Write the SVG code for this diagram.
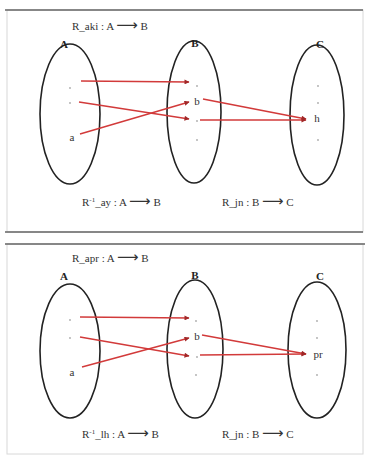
<svg xmlns="http://www.w3.org/2000/svg" width="368" height="462" viewBox="0 0 368 462">
<defs>
<marker id="ah" viewBox="0 0 10 10" refX="9" refY="5" markerWidth="6" markerHeight="5" orient="auto" markerUnits="userSpaceOnUse">
<path d="M0,0 L10,5 L0,10 z" fill="#a02828"/>
</marker>
<style>
.panel{fill:#fff;stroke:#d8d8d8;stroke-width:1}
.rule{stroke:#666;stroke-width:1.6}
.set{fill:none;stroke:#222;stroke-width:1.6}
.arr{stroke:#d23a3a;stroke-width:1.5;fill:none;marker-end:url(#ah)}
.lbl{font-family:"Liberation Serif",serif;font-size:11px;fill:#333}
.ar{font-family:"DejaVu Sans",sans-serif;font-size:15px}
.setlbl{font-family:"Liberation Serif",serif;font-size:11px;font-weight:bold;fill:#222;text-anchor:middle}
.el{font-family:"Liberation Serif",serif;font-size:11px;fill:#333;text-anchor:middle}
.dot{fill:#aaa}
</style>
</defs>
<rect width="368" height="462" fill="#fff"/>
<g id="panel1">
<rect class="panel" x="7" y="10" width="356" height="222"/>
<line class="rule" x1="5" y1="10" x2="363" y2="10"/>
<line class="rule" x1="5" y1="232" x2="363" y2="232"/>
</g>
<g id="panel2">
<rect class="panel" x="7" y="244" width="356" height="210"/>
<line class="rule" x1="5" y1="244" x2="365" y2="244"/>
</g>
<g id="title1"><text class="lbl" x="72" y="30">R_aki : A <tspan class="ar">⟶</tspan> B</text></g>
<g id="setA1"><ellipse class="set" cx="70" cy="114" rx="30" ry="70"/><text class="setlbl" x="64" y="48">A</text>
<circle class="dot" cx="70" cy="88" r="0.9"/><circle class="dot" cx="70" cy="103" r="0.9"/><text class="el" x="72" y="141">a</text></g>
<g id="setB1"><ellipse class="set" cx="194" cy="112" rx="27" ry="71"/><text class="setlbl" x="195" y="47">B</text>
<circle class="dot" cx="197" cy="86" r="0.9"/><text class="el" x="197" y="105">b</text><circle class="dot" cx="197" cy="121" r="0.9"/><circle class="dot" cx="197" cy="140" r="0.9"/></g>
<g id="setC1"><ellipse class="set" cx="317" cy="115" rx="27" ry="70"/><text class="setlbl" x="320" y="48">C</text>
<circle class="dot" cx="318" cy="86" r="0.9"/><circle class="dot" cx="318" cy="103" r="0.9"/><text class="el" x="317" y="122">h</text><circle class="dot" cx="318" cy="140" r="0.9"/></g>
<g id="conn1">
<line class="arr" x1="81" y1="81" x2="189" y2="82"/>
<line class="arr" x1="79" y1="102" x2="189" y2="119"/>
<line class="arr" x1="80" y1="134" x2="189" y2="102"/>
<line class="arr" x1="203" y1="99" x2="306" y2="119"/>
<line class="arr" x1="200" y1="120" x2="306" y2="120"/>
</g>
<g id="foot1"><text class="lbl" x="82" y="206">R<tspan dy="-4" font-size="7">-1</tspan><tspan dy="4">_ay : A </tspan><tspan class="ar">⟶</tspan> B</text>
<text class="lbl" x="222" y="206">R_jn : B <tspan class="ar">⟶</tspan> C</text></g>
<g id="title2"><text class="lbl" x="72" y="262">R_apr : A <tspan class="ar">⟶</tspan> B</text></g>
<g id="setA2"><ellipse class="set" cx="70" cy="351" rx="30" ry="67"/><text class="setlbl" x="64" y="280">A</text>
<circle class="dot" cx="70" cy="320" r="0.9"/><circle class="dot" cx="70" cy="338" r="0.9"/><text class="el" x="72" y="376">a</text></g>
<g id="setB2"><ellipse class="set" cx="195" cy="349" rx="28" ry="69"/><text class="setlbl" x="195" y="279">B</text>
<circle class="dot" cx="196" cy="321" r="0.9"/><text class="el" x="197" y="340">b</text><circle class="dot" cx="197" cy="357" r="0.9"/><circle class="dot" cx="196" cy="375" r="0.9"/></g>
<g id="setC2"><ellipse class="set" cx="317" cy="350" rx="29" ry="68"/><text class="setlbl" x="320" y="280">C</text>
<circle class="dot" cx="317" cy="321" r="0.9"/><circle class="dot" cx="317" cy="338" r="0.9"/><text class="el" x="318" y="358">pr</text><circle class="dot" cx="317" cy="375" r="0.9"/></g>
<g id="conn2">
<line class="arr" x1="80" y1="317" x2="189" y2="318"/>
<line class="arr" x1="80" y1="337" x2="189" y2="356"/>
<line class="arr" x1="82" y1="367" x2="189" y2="338"/>
<line class="arr" x1="202" y1="335" x2="306" y2="354"/>
<line class="arr" x1="200" y1="355" x2="306" y2="354"/>
</g>
<g id="foot2"><text class="lbl" x="82" y="438">R<tspan dy="-4" font-size="7">-1</tspan><tspan dy="4">_lh : A </tspan><tspan class="ar">⟶</tspan> B</text>
<text class="lbl" x="222" y="438">R_jn : B <tspan class="ar">⟶</tspan> C</text></g>
</svg>
